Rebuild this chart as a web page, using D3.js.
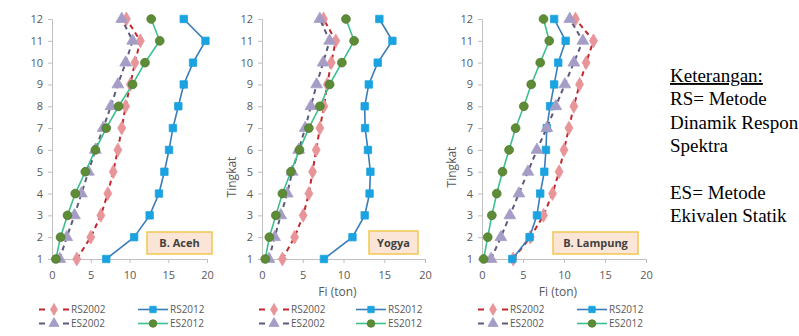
<!DOCTYPE html>
<html>
<head>
<meta charset="utf-8">
<script src="https://cdn.jsdelivr.net/npm/d3@7"></script>
<style>
  body { margin: 0; background: #fff; }
  svg { display: block; }
</style>
</head>
<body>
<svg id="chart" width="799" height="336"></svg>
<script>
// levels (Tingkat) and ticks
const levels = [1, 2, 3, 4, 5, 6, 7, 8, 9, 10, 11, 12];
const xTicks = [0, 5, 10, 15, 20];
const seriesNames = ["RS2002", "RS2012", "ES2002", "ES2012"];

// B. Aceh
const acehRS2002 = [3.2, 5.0, 6.3, 7.2, 7.9, 8.5, 9.0, 9.5, 10.1, 10.7, 11.4, 9.6];
const acehRS2012 = [7.0, 10.6, 12.6, 13.8, 14.5, 15.1, 15.6, 16.3, 17.0, 18.2, 19.8, 17.0];
const acehES2002 = [1.0, 1.9, 2.9, 3.8, 4.7, 5.6, 6.6, 7.6, 8.5, 9.5, 10.4, 9.0];
const acehES2012 = [0.5, 1.1, 2.0, 3.0, 4.3, 5.6, 7.0, 8.6, 10.4, 12.0, 13.9, 12.8];

// Yogya
const yogyaRS2002 = [2.5, 4.0, 5.05, 5.75, 6.2, 6.65, 7.1, 7.6, 8.0, 8.5, 9.05, 7.55];
const yogyaRS2012 = [7.6, 11.1, 12.6, 13.2, 13.3, 13.0, 12.65, 12.6, 13.1, 14.2, 16.0, 14.4];
const yogyaES2002 = [0.85, 1.55, 2.3, 3.1, 3.7, 4.5, 5.3, 6.0, 6.7, 7.5, 8.3, 7.1];
const yogyaES2012 = [0.4, 0.9, 1.7, 2.5, 3.55, 4.6, 5.75, 7.1, 8.3, 9.8, 11.3, 10.3];

// B. Lampung
const lampungRS2002 = [3.8, 5.9, 7.5, 8.6, 9.4, 10.0, 10.6, 11.2, 11.9, 12.7, 13.6, 11.4];
const lampungRS2012 = [3.7, 5.8, 6.7, 7.1, 7.6, 7.8, 7.9, 8.3, 8.8, 9.3, 10.2, 8.8];
const lampungES2002 = [1.1, 2.3, 3.4, 4.5, 5.6, 6.7, 7.9, 9.0, 10.1, 11.2, 12.3, 10.7];
const lampungES2012 = [0.2, 0.7, 1.2, 1.8, 2.5, 3.3, 4.1, 5.1, 6.0, 7.1, 8.2, 7.5];

const noteLines = ["Keterangan:", "RS= Metode", "Dinamik Respon", "Spektra", "", "ES= Metode", "Ekivalen Statik"];

const panels = [
  { name: "B. Aceh", x0: 52, x1: 207, box: [147, 232, 65, 22], title: false, xlab: false, legX: [39, 138],
    data: [acehRS2002, acehRS2012, acehES2002, acehES2012] },
  { name: "Yogya", x0: 262, x1: 425, box: [369, 231, 49, 23], title: true, titleY: 177, xlab: true, legX: [259, 356],
    data: [yogyaRS2002, yogyaRS2012, yogyaES2002, yogyaES2012] },
  { name: "B. Lampung", x0: 482, x1: 646, box: [553, 232, 85, 22], title: true, titleY: 167, xlab: true, legX: [478, 577],
    data: [lampungRS2002, lampungRS2012, lampungES2002, lampungES2012] }
];

const styles = {
  RS2002: { line: "#C0282D", dash: "5,4", width: 2, fill: "#E8959A", stroke: "#E8959A", shape: d3.symbolDiamond, size: 55 },
  RS2012: { line: "#3A7DB8", dash: null, width: 1.6, fill: "#1AA3E0", stroke: "#1AA3E0", shape: d3.symbolSquare, size: 55 },
  ES2002: { line: "#5E5A7E", dash: "5,4", width: 2, fill: "#A59DC6", stroke: "#A59DC6", shape: d3.symbolTriangle, size: 60 },
  ES2012: { line: "#3CC08C", dash: null, width: 1.6, fill: "#5E8B36", stroke: "#4E7A2C", shape: d3.symbolCircle, size: 60 }
};

const svg = d3.select("#chart");
const yTop = 19, yBot = 259;
const font = "'Open Sans', 'Liberation Sans', sans-serif";

panels.forEach(p => {
  const x = d3.scaleLinear().domain([0, 20]).range([p.x0, p.x1]);
  const y = d3.scaleLinear().domain([1, 12]).range([yBot, yTop]);
  const g = svg.append("g");

  // y axis
  const ya = g.append("g").attr("transform", `translate(${p.x0},0)`)
    .call(d3.axisLeft(y).tickValues(levels).tickFormat(d3.format("d")).tickSize(4).tickPadding(5));
  // x axis
  const xa = g.append("g").attr("transform", `translate(0,${yBot})`)
    .call(d3.axisBottom(x).tickValues(xTicks).tickSize(4).tickPadding(8));
  [ya, xa].forEach(a => {
    a.select(".domain").attr("stroke", "#BFBFBF");
    a.selectAll(".tick line").attr("stroke", "#BFBFBF");
    a.selectAll(".tick text").attr("fill", "#595959").style("font-family", font).style("font-size", "11px");
  });

  if (p.title) {
    g.append("text").attr("transform", `translate(${p.x0 - 26},${p.titleY}) rotate(-90)`)
      .attr("text-anchor", "middle").attr("fill", "#595959")
      .style("font-family", font).style("font-size", "12px").text("Tingkat");
  }
  if (p.xlab) {
    g.append("text").attr("x", (p.x0 + p.x1) / 2 - 6).attr("y", 296)
      .attr("text-anchor", "middle").attr("fill", "#595959")
      .style("font-family", font).style("font-size", "12px").text("Fi (ton)");
  }

  // series
  p.data.forEach((vals, i) => {
    const st = styles[seriesNames[i]];
    const line = d3.line().x(d => x(d)).y((d, j) => y(levels[j]));
    g.append("path").datum(vals).attr("d", line)
      .attr("fill", "none").attr("stroke", st.line).attr("stroke-width", st.width)
      .attr("stroke-dasharray", st.dash);
    g.selectAll(null).data(vals).enter().append("path")
      .attr("d", d3.symbol().type(st.shape).size(st.size))
      .attr("transform", (d, j) => `translate(${x(d)},${y(levels[j])})`)
      .attr("fill", st.fill).attr("stroke", st.stroke).attr("stroke-width", 0.8);
  });

  // location box
  const [bx, by, bw, bh] = p.box;
  g.append("rect").attr("x", bx).attr("y", by).attr("width", bw).attr("height", bh)
    .attr("fill", "#FBE5D6").attr("stroke", "#F2C64F").attr("stroke-width", 1.5);
  g.append("text").attr("x", bx + bw / 2).attr("y", by + bh / 2 + 4)
    .attr("text-anchor", "middle").attr("fill", "#404040")
    .style("font-family", font).style("font-size", "11px").style("font-weight", "bold").text(p.name);

  // legend, two columns x two rows
  const legY = [309.5, 323.5];
  [0, 1].forEach(col => {
    [0, 1].forEach(row => {
      const idx = col + row * 2;
      const st = styles[seriesNames[idx]];
      const lx = p.legX[col], ly = legY[row];
      g.append("line").attr("x1", lx).attr("x2", lx + 30).attr("y1", ly).attr("y2", ly)
        .attr("stroke", st.line).attr("stroke-width", st.width)
        .attr("stroke-dasharray", st.dash ? "6,6" : null);
      g.append("path").attr("d", d3.symbol().type(st.shape).size(st.size * 0.75))
        .attr("transform", `translate(${lx + 15},${ly})`)
        .attr("fill", st.fill).attr("stroke", st.stroke).attr("stroke-width", 0.8);
      g.append("text").attr("x", lx + 32).attr("y", ly + 3.5).attr("fill", "#595959")
        .style("font-family", font).style("font-size", "10px").text(seriesNames[idx]);
    });
  });
});

// note text on the right
const note = svg.append("text").attr("x", 670).attr("y", 82)
  .style("font-family", "'Liberation Serif', 'Times New Roman', serif").style("font-size", "19px").attr("fill", "#000");
noteLines.forEach((t, i) => {
  note.append("tspan").attr("x", 670).attr("dy", i === 0 ? 0 : 23.3)
    .style("text-decoration", i === 0 ? "underline" : null).text(t === "" ? "\u00a0" : t);
});
</script>
</body>
</html>
